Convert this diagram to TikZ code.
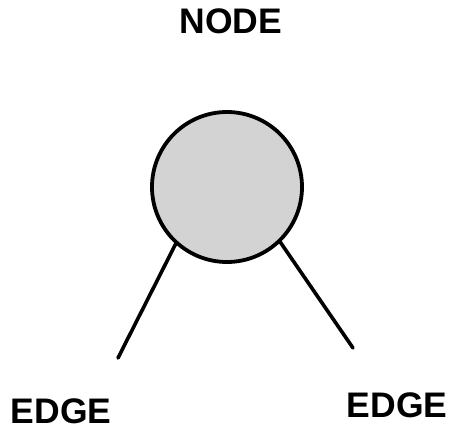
\documentclass[tikz,border=0pt]{standalone}
\usepackage{fontspec}
\setmainfont{Liberation Sans}
\usepackage{xcolor}
\usepackage{tikz}
\usetikzlibrary{positioning,calc}
\definecolor{vertexgray}{HTML}{D3D3D3}
\tikzset{
  vertex/.style={circle,draw=black,line width=3.8pt,fill=vertexgray,minimum size=150pt,inner sep=0pt},
  link/.style={line width=3.6pt,line cap=round},
  caption/.style={font=\bfseries\fontsize{35.5}{38}\selectfont,inner sep=0pt}
}
\begin{document}
\begin{tikzpicture}[x=1pt,y=-1pt]
  \useasboundingbox (0,0) rectangle (458,431);
  % Vertex
  \node[vertex] (vtx) at (227,187) {};
  % Loose ends of the edges
  \coordinate (endL) at (118,358);
  \coordinate (endR) at (353,348);
  \draw[link] (vtx.228) -- (endL);
  \draw[link] (vtx.314) -- (endR);
  % Labels
  \node[caption] (lblnode) at (231,21) {NODE};
  \node[caption] (lbledgeL) at (61,411) {EDGE};
  \node[caption] (lbledgeR) at (397,405) {EDGE};
\end{tikzpicture}
\end{document}
